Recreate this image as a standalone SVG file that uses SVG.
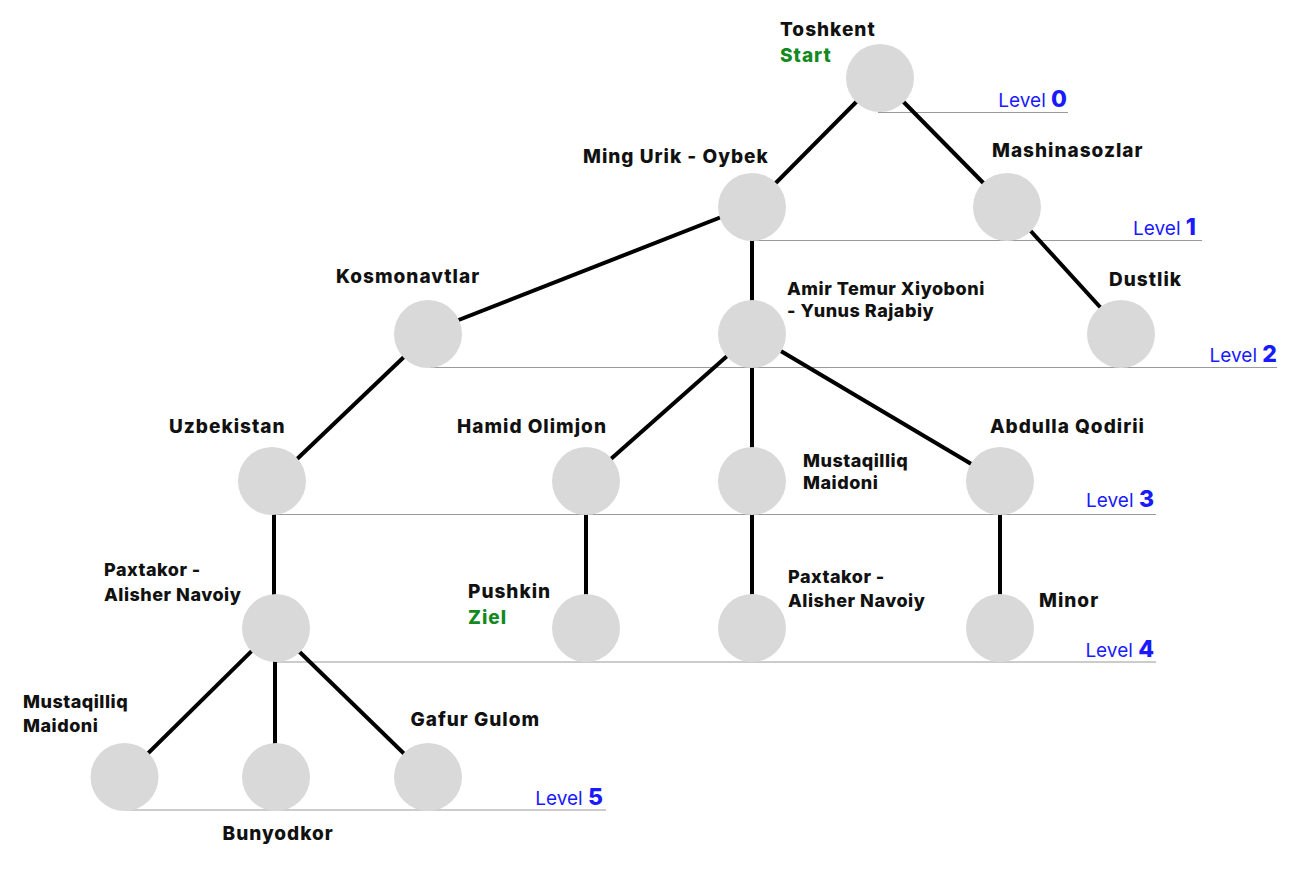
<svg xmlns="http://www.w3.org/2000/svg" width="1301" height="875" viewBox="0 0 1301 875">
<style>
.n{fill:#d9d9d9}
.t{font-family:Inter,"Noto Sans","Liberation Sans",sans-serif;font-weight:800;font-size:19px;letter-spacing:1px;fill:#111}
.m{font-size:18px;letter-spacing:0.5px}
.g{fill:#13891f}
.lv{font-family:Inter,"Noto Sans","Liberation Sans",sans-serif;font-size:19px;fill:#1a1aff}
.lv .d{font-weight:800;font-size:23px}
.ll{stroke:#9a9a9a;stroke-width:1.2}
.e{stroke:#000;stroke-width:4}
</style>
<rect width="1301" height="875" fill="#fff"/>
<g id="levels">
<line class="ll" x1="878" y1="112.5" x2="1068" y2="112.5"/>
<text class="lv" x="1067" y="107" text-anchor="end">Level <tspan class="d">0</tspan></text>
<line class="ll" x1="754" y1="240.5" x2="1202" y2="240.5"/>
<text class="lv" x="1196" y="235" text-anchor="end">Level <tspan class="d">1</tspan></text>
<line class="ll" x1="430" y1="367.5" x2="1277" y2="367.5"/>
<text class="lv" x="1277" y="362" text-anchor="end">Level <tspan class="d">2</tspan></text>
<line class="ll" x1="272" y1="514.5" x2="1156" y2="514.5"/>
<text class="lv" x="1154" y="507" text-anchor="end">Level <tspan class="d">3</tspan></text>
<line class="ll" x1="276" y1="662" x2="1156" y2="662"/>
<text class="lv" x="1154" y="656.5" text-anchor="end">Level <tspan class="d">4</tspan></text>
<line class="ll" x1="124" y1="810" x2="606" y2="810"/>
<text class="lv" x="603" y="805" text-anchor="end">Level <tspan class="d">5</tspan></text>
</g>
<g id="edges">
<line class="e" x1="880" y1="78" x2="752" y2="207"/>
<line class="e" x1="880" y1="78" x2="1007" y2="207"/>
<line class="e" x1="1007" y1="205" x2="1121" y2="330"/>
<line class="e" x1="752" y1="205" x2="428" y2="332"/>
<line class="e" x1="752" y1="207" x2="752" y2="334"/>
<line class="e" x1="428" y1="334" x2="274" y2="481"/>
<line class="e" x1="752" y1="334" x2="586" y2="481"/>
<line class="e" x1="752" y1="334" x2="752" y2="481"/>
<line class="e" x1="752" y1="334" x2="1000" y2="481"/>
<line class="e" x1="274" y1="481" x2="274" y2="628"/>
<line class="e" x1="586" y1="481" x2="586" y2="628"/>
<line class="e" x1="752" y1="481" x2="752" y2="628"/>
<line class="e" x1="1000" y1="481" x2="1000" y2="628"/>
<line class="e" x1="275" y1="628" x2="124" y2="777"/>
<line class="e" x1="275" y1="628" x2="275" y2="777"/>
<line class="e" x1="275" y1="628" x2="428" y2="777"/>
</g>
<g id="n-toshkent"><circle class="n" cx="880" cy="78" r="34"/><text class="t" x="780" y="36">Toshkent</text><text class="t g" x="780" y="62">Start</text></g>
<g id="n-mingurik"><circle class="n" cx="752" cy="207" r="34"/><text class="t" x="583" y="163">Ming Urik - Oybek</text></g>
<g id="n-mashinasozlar"><circle class="n" cx="1007" cy="207" r="34"/><text class="t" x="992" y="157">Mashinasozlar</text></g>
<g id="n-dustlik"><circle class="n" cx="1121" cy="334" r="34"/><text class="t" x="1109" y="286">Dustlik</text></g>
<g id="n-kosmonavtlar"><circle class="n" cx="428" cy="334" r="34"/><text class="t" x="336" y="283">Kosmonavtlar</text></g>
<g id="n-amirtemur"><circle class="n" cx="752" cy="334" r="34"/><text class="t m" x="787" y="295">Amir Temur Xiyoboni</text><text class="t m" x="787" y="317">- Yunus Rajabiy</text></g>
<g id="n-uzbekistan"><circle class="n" cx="272" cy="481" r="34"/><text class="t" x="169" y="433">Uzbekistan</text></g>
<g id="n-hamid"><circle class="n" cx="586" cy="481" r="34"/><text class="t" x="457" y="433">Hamid Olimjon</text></g>
<g id="n-mustaqilliq3"><circle class="n" cx="752" cy="481" r="34"/><text class="t m" x="803" y="466.5">Mustaqilliq</text><text class="t m" x="803" y="489">Maidoni</text></g>
<g id="n-abdulla"><circle class="n" cx="1000" cy="481" r="34"/><text class="t" x="990" y="433">Abdulla Qodirii</text></g>
<g id="n-paxtakor4a"><circle class="n" cx="276" cy="628" r="34"/><text class="t m" x="104" y="576">Paxtakor -</text><text class="t m" x="104" y="600.5">Alisher Navoiy</text></g>
<g id="n-pushkin"><circle class="n" cx="586" cy="628" r="34"/><text class="t" x="468" y="597.5">Pushkin</text><text class="t g" x="468" y="624">Ziel</text></g>
<g id="n-paxtakor4b"><circle class="n" cx="752" cy="628" r="34"/><text class="t m" x="788" y="583">Paxtakor -</text><text class="t m" x="788" y="606.5">Alisher Navoiy</text></g>
<g id="n-minor"><circle class="n" cx="1000" cy="628" r="34"/><text class="t" x="1039" y="606.5">Minor</text></g>
<g id="n-mustaqilliq5"><circle class="n" cx="124.5" cy="777" r="34"/><text class="t m" x="23" y="708">Mustaqilliq</text><text class="t m" x="23" y="731.5">Maidoni</text></g>
<g id="n-bunyodkor"><circle class="n" cx="276" cy="777" r="34"/><text class="t" x="222.5" y="840">Bunyodkor</text></g>
<g id="n-gafur"><circle class="n" cx="428" cy="777" r="34"/><text class="t" x="410.5" y="726">Gafur Gulom</text></g>
</svg>
